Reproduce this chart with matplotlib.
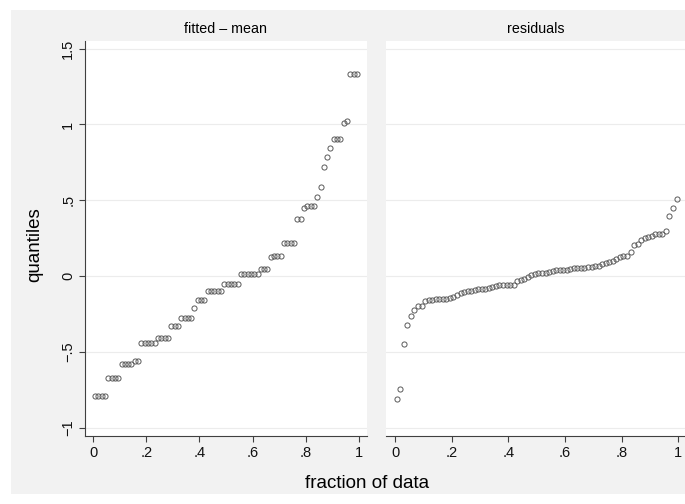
import numpy as np
import matplotlib
matplotlib.use("Agg")
import matplotlib.pyplot as plt
from matplotlib.patches import Rectangle

plt.rcParams['font.family'] = ['Liberation Sans', 'DejaVu Sans']

# sorted fitted values minus the mean
fitted = [
    -0.795, -0.795, -0.795, -0.795,
    -0.675, -0.675, -0.675, -0.675,
    -0.579, -0.579, -0.579, -0.579,
    -0.559, -0.559,
    -0.442, -0.442, -0.442, -0.442, -0.442,
    -0.411, -0.411, -0.411, -0.411,
    -0.328, -0.328, -0.328,
    -0.277, -0.277, -0.277, -0.277,
    -0.213,
    -0.158, -0.158, -0.158,
    -0.100, -0.100, -0.100, -0.100, -0.100,
    -0.054, -0.054, -0.054, -0.054, -0.054,
    0.013, 0.013, 0.013, 0.013, 0.013, 0.013,
    0.044, 0.044, 0.044,
    0.124,
    0.134, 0.134, 0.134,
    0.218, 0.218, 0.218, 0.218,
    0.376, 0.376,
    0.449,
    0.460, 0.460, 0.460,
    0.521, 0.590, 0.722, 0.783, 0.845,
    0.902, 0.902, 0.902,
    1.010, 1.021,
    1.335, 1.335, 1.335,
]

# sorted residuals (right panel)
residuals = [
    -0.810, -0.745, -0.449, -0.326, -0.262, -0.224, -0.198, -0.195, -0.168, -0.158,
    -0.156, -0.155, -0.153, -0.152, -0.150, -0.145, -0.141, -0.127, -0.114, -0.105,
    -0.101, -0.097, -0.094, -0.089, -0.087, -0.084, -0.081, -0.072, -0.066, -0.061,
    -0.060, -0.059, -0.058, -0.057, -0.030, -0.026, -0.020, -0.006, 0.004, 0.013,
    0.017, 0.019, 0.022, 0.027, 0.031, 0.038, 0.040, 0.041, 0.042, 0.046,
    0.050, 0.051, 0.052, 0.054, 0.060, 0.062, 0.064, 0.068, 0.076, 0.086,
    0.092, 0.100, 0.115, 0.126, 0.131, 0.135, 0.160, 0.207, 0.210, 0.238,
    0.250, 0.258, 0.265, 0.277, 0.277, 0.279, 0.300, 0.394, 0.447, 0.508,
]

yticks = [-1, -0.5, 0, 0.5, 1, 1.5]
ytick_labels = ['\u22121', '\u2212.5', '0', '.5', '1', '1.5']
xticks = [0, 0.2, 0.4, 0.6, 0.8, 1]
xtick_labels = ['0', '.2', '.4', '.6', '.8', '1']
titles = ['fitted \u2013 mean', 'residuals']

# fraction of data for each sorted observation
n = len(fitted)
frac = (np.arange(1, n + 1) - 0.5) / n

W, H = 685, 504
fig = plt.figure(figsize=(W / 100, H / 100), dpi=100, facecolor='white')
fig.add_artist(Rectangle((11 / W, 10 / H), (W - 11) / W, (H - 20) / H,
                         transform=fig.transFigure, facecolor='#f2f2f2',
                         edgecolor='none', zorder=-10))


def px_axes(x0, x1, y0, y1):
    return fig.add_axes([x0 / W, 1 - y1 / H, (x1 - x0) / W, (y1 - y0) / H])


axL = px_axes(85, 367, 40.7, 436)
axR = px_axes(386, 685, 40.7, 436)

for ax, vals, xlim in [(axL, fitted, (-0.0313, 1.0313)),
                       (axR, residuals, (-0.0318, 1.0236))]:
    ax.plot(frac, vals, 'o', ms=3.7, mfc='none', mec='#5a5a5a', mew=0.7)
    ax.set_xlim(*xlim)
    ax.set_ylim(-1.056, 1.553)
    ax.set_yticks(yticks, ytick_labels, rotation=90, va='center')
    ax.set_xticks(xticks, xtick_labels)
    ax.grid(axis='y', color='#ececec', lw=0.8)
    ax.set_axisbelow(True)
    for s in ['top', 'right']:
        ax.spines[s].set_visible(False)
    ax.spines['bottom'].set_color('#404040')
    ax.spines['left'].set_color('#404040')
    ax.tick_params(direction='out', length=4, width=0.8, color='#404040',
                   labelsize=10.5, pad=3, labelcolor='#111111')

axR.spines['left'].set_visible(False)
axR.tick_params(axis='y', left=False, labelleft=False)

fig.text(226 / W, 1 - 29 / H, titles[0], ha='center', va='center', fontsize=10.3)
fig.text(535.5 / W, 1 - 29 / H, titles[1], ha='center', va='center', fontsize=10.3)
fig.text(35 / W, 1 - 245 / H, 'quantiles', rotation=90, ha='center', va='center', fontsize=13.5)
fig.text(367 / W, 1 - 484 / H, 'fraction of data', ha='center', va='center', fontsize=13.5)

fig.savefig('out.png', dpi=100, facecolor='white')
